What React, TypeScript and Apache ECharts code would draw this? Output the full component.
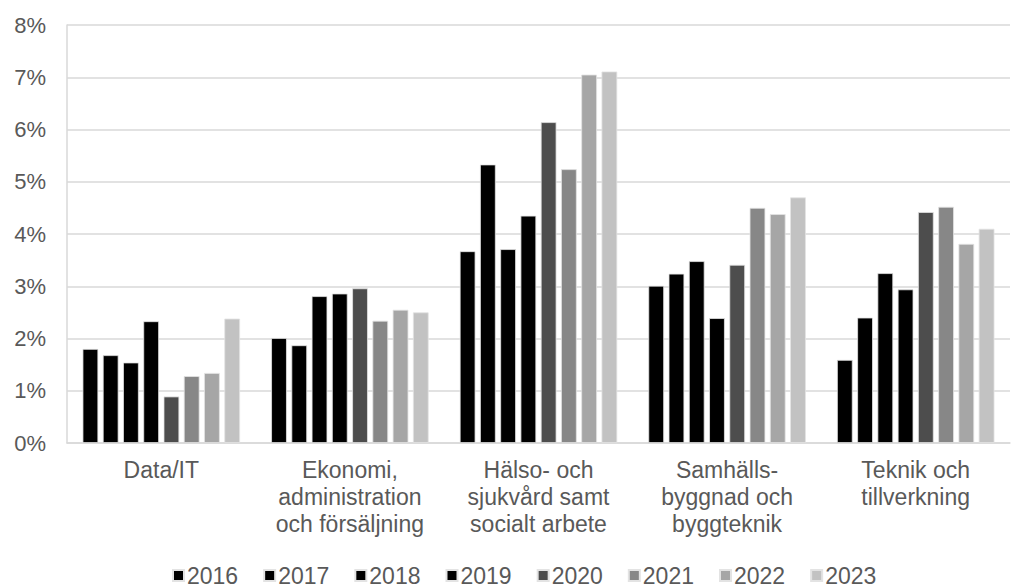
import React, { useEffect, useRef } from "react";
import * as echarts from "echarts";

const categories = [
  "Data/IT",
  "Ekonomi,\nadministration\noch försäljning",
  "Hälso- och\nsjukvård samt\nsocialt arbete",
  "Samhälls-\nbyggnad och\nbyggteknik",
  "Teknik och\ntillverkning",
];

const years = ["2016", "2017", "2018", "2019", "2020", "2021", "2022", "2023"];

const values2016 = [1.80, 2.01, 3.67, 3.01, 1.59];
const values2017 = [1.68, 1.87, 5.33, 3.24, 2.40];
const values2018 = [1.54, 2.81, 3.71, 3.48, 3.25];
const values2019 = [2.33, 2.86, 4.35, 2.39, 2.94];
const values2020 = [0.89, 2.96, 6.14, 3.41, 4.42];
const values2021 = [1.28, 2.34, 5.24, 4.50, 4.52];
const values2022 = [1.34, 2.55, 7.05, 4.38, 3.81];
const values2023 = [2.38, 2.50, 7.11, 4.70, 4.10];

const seriesValues = [
  values2016, values2017, values2018, values2019,
  values2020, values2021, values2022, values2023,
];

const colors = [
  "#000000", "#000000", "#000000", "#000000",
  "#4d4d4d", "#878787", "#a6a6a6", "#c2c2c2",
];

const FONT = "'Liberation Sans', Arial, sans-serif";

export default function App() {
  const ref = useRef<HTMLDivElement>(null);

  useEffect(() => {
    if (!ref.current) return;
    const chart = echarts.init(ref.current, undefined, { renderer: "svg" });
    chart.setOption({
      animation: false,
      textStyle: { fontFamily: FONT },
      grid: { left: 67, right: 1, top: 25, bottom: 144, containLabel: false },
      legend: {
        data: years,
        top: 564,
        left: 172,
        padding: 0,
        icon: "rect",
        itemWidth: 11,
        itemHeight: 11,
        itemGap: 25,
        textStyle: { fontSize: 23, color: "#595959", fontFamily: FONT, padding: [0, 0, 0, -2] },
      },
      xAxis: {
        type: "category",
        data: categories,
        axisLine: { show: true, lineStyle: { color: "#d9d9d9", width: 1.5 } },
        axisTick: { show: false },
        axisLabel: {
          interval: 0,
          margin: 13,
          fontSize: 23,
          lineHeight: 27,
          color: "#595959",
          fontFamily: FONT,
        },
      },
      yAxis: {
        type: "value",
        min: 0,
        max: 8,
        interval: 1,
        axisLine: { show: true, lineStyle: { color: "#d9d9d9", width: 1.5 } },
        axisTick: { show: false },
        splitLine: { show: true, lineStyle: { color: "#d9d9d9", width: 1.5 } },
        axisLabel: {
          margin: 21,
          fontSize: 22,
          color: "#595959",
          fontFamily: FONT,
          formatter: (v: number) => `${v}%`,
        },
      },
      series: years.map((y, i) => ({
        name: y,
        type: "bar",
        data: seriesValues[i],
        barGap: "29%",
        barCategoryGap: "16.5%",
        itemStyle: {
          color: colors[i],
          borderColor: "#e3e3e3",
          borderWidth: 0.8,
        },
      })),
    });
    return () => chart.dispose();
  }, []);

  return (
    <div
      ref={ref}
      style={{ position: "fixed", left: 0, top: 0, width: 1011, height: 587, background: "#ffffff" }}
    />
  );
}
